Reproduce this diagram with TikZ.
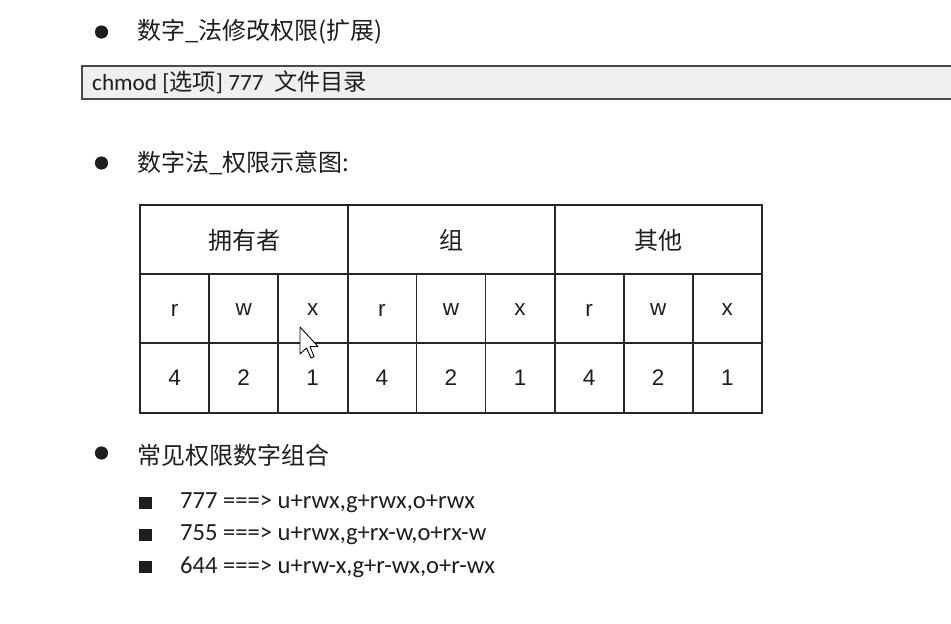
\documentclass[tikz,border=0pt]{standalone}
\usepackage{fontspec}
\setmainfont{Carlito}
\newfontfamily\cjk{Noto Sans CJK SC}
\newfontfamily\arial{Liberation Sans}
\usepackage{tikz}
\definecolor{ink}{HTML}{1E1E1E}
\definecolor{boxfill}{HTML}{EFEFEF}
\definecolor{boxline}{HTML}{4A4A4A}
\tikzset{
  heading/.style={anchor=west,inner sep=0pt,text=ink,font=\cjk\fontsize{24}{28}\selectfont},
  item/.style={anchor=west,inner sep=0pt,text=ink,font=\fontsize{24.6}{28}\selectfont},
  cell/.style={inner sep=0pt,text=ink,font=\arial\fontsize{22.5}{26}\selectfont},
  headcell/.style={inner sep=0pt,text=ink,font=\cjk\fontsize{24}{28}\selectfont},
  grid/.style={line width=1.8pt,draw=black!85}
}
\begin{document}
\begin{tikzpicture}[x=1pt,y=-1pt]
\useasboundingbox[fill=white](0,0)rectangle(951,624);
%first heading
\fill[ink](101.5,32)circle(6.6);
\node[heading](h1)at(137,32){数字\_法修改权限(扩展)};
\draw[boxline,line width=1.2pt,fill=boxfill](82,66)rectangle(954,99); %command box
\node[item,font=\fontsize{23.2}{26}\selectfont](cmd)at(92,82){chmod [{\cjk 选项}] 777~~{\cjk 文件目录}};
%second heading
\fill[ink](101.5,163)circle(6.6);
\node[heading](h2)at(137,163){数字法\_权限示意图:};
%table
\draw[grid](140,205)rectangle(762,413);
\draw[grid](140,274)--(762,274);
\draw[grid](140,343)--(762,343);
\draw[grid](348,205)--(348,413);
\draw[grid](555,205)--(555,413);
\foreach \c in {1,2,4,5,7,8}
  \draw[grid]({140+69.1*\c},274)--({140+69.1*\c},413);
\node[headcell](owner)at(244,240){拥有者};
\node[headcell](group)at(451.5,240){组};
\node[headcell](other)at(658.5,240){其他};
\foreach \i/\p/\v in {1/r/4,2/w/2,3/x/1,4/r/4,5/w/2,6/x/1,7/r/4,8/w/2,9/x/1}{
  \node[cell](p\i)at({140+69.1*(\i-.5)},310){\p};
  \node[cell](v\i)at({140+69.1*(\i-.5)},378){\v};
}
\draw[black,line width=.9pt,fill=white,line join=round](300,327)--(300,354)--(306.5,348)--(311,358)--(314,356.5)--(310,346.5)--(318,346.5)--cycle; %cursor
%third heading
\fill[ink](101.5,453)circle(6.6);
\node[heading](h3)at(137,455){常见权限数字组合};
\fill[ink](138.5,497)rectangle(151.5,509);
\node[item](c1)at(180,503){777 ===> u+rwx,g+rwx,o+rwx};
\fill[ink](138.5,529)rectangle(151.5,541);
\node[item](c2)at(180,535){755 ===> u+rwx,g+rx-w,o+rx-w};
\fill[ink](138.5,561)rectangle(151.5,573);
\node[item](c3)at(180,567){644 ===> u+rw-x,g+r-wx,o+r-wx};
\end{tikzpicture}
\end{document}
